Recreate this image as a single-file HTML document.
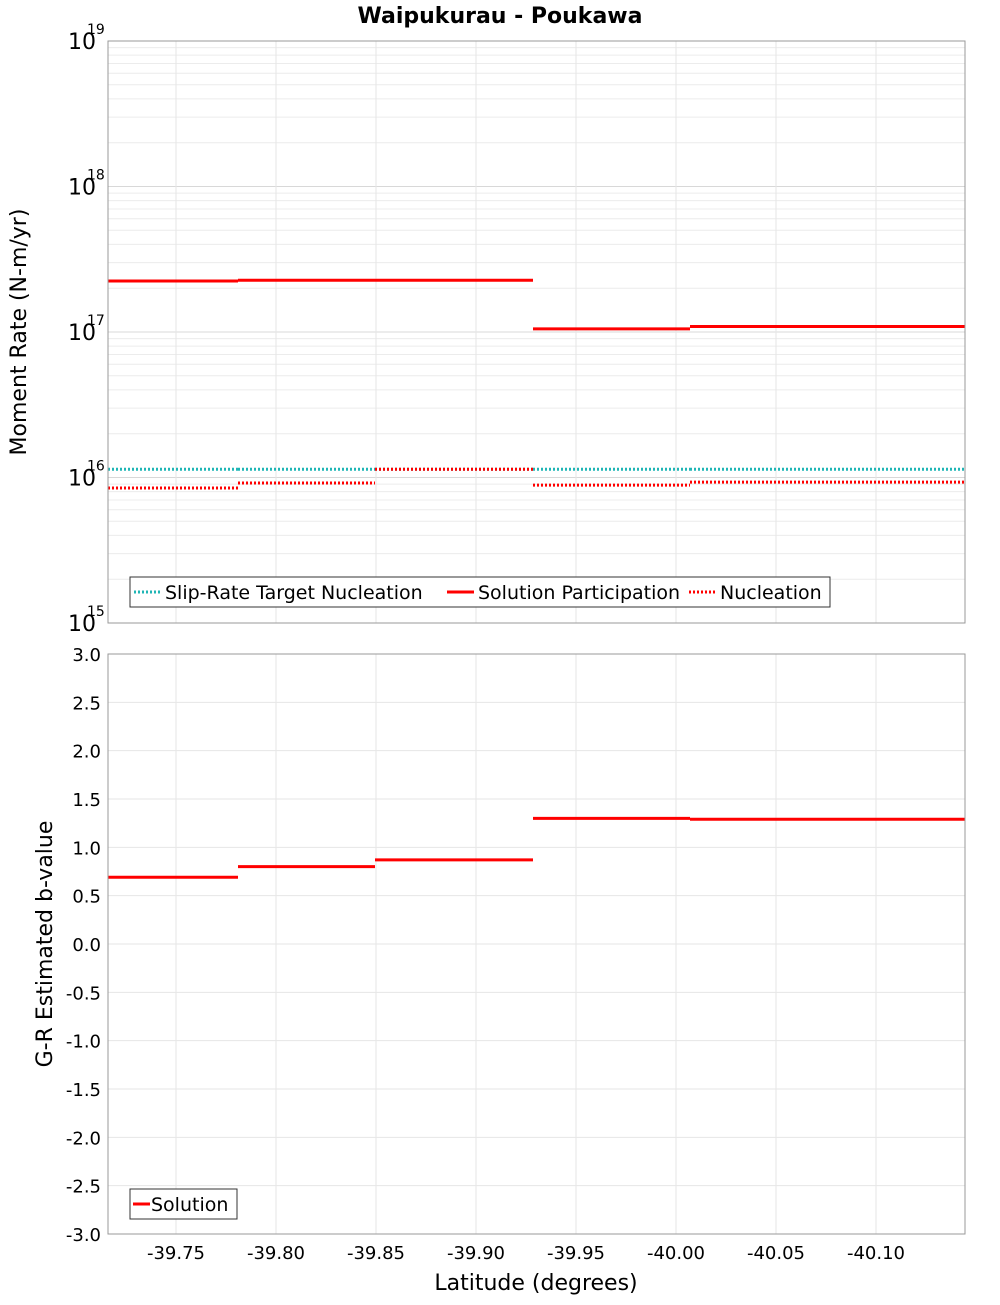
<!DOCTYPE html>
<html><head><meta charset="utf-8">
<style>
body{margin:0;background:#fff;font-family:"Liberation Sans","DejaVu Sans",sans-serif;}
svg text{font-family:"DejaVu Sans","Liberation Sans",sans-serif;}
</style></head>
<body>
<svg id="chart" width="1000" height="1300" xmlns="http://www.w3.org/2000/svg">
<text x="500" y="23" text-anchor="middle" font-size="22" font-weight="bold">Waipukurau - Poukawa</text>
<g id="topg"></g>
<g id="botg"></g>
<text transform="translate(26,332) rotate(-90)" text-anchor="middle" font-size="22">Moment Rate (N-m/yr)</text>
<text transform="translate(52,944) rotate(-90)" text-anchor="middle" font-size="22">G-R Estimated b-value</text>
<text x="536" y="1290" text-anchor="middle" font-size="22">Latitude (degrees)</text>
</svg>
<script>
const binEdges=[-39.716,-39.781,-39.8495,-39.9285,-40.007,-40.1445];
const targetNucleation=[1.14e16,1.14e16,1.14e16,1.14e16,1.14e16];
const solutionParticipation=[2.24e17,2.27e17,2.27e17,1.05e17,1.09e17];
const nucleation=[8.47e15,9.17e15,1.14e16,8.87e15,9.3e15];
const bValues=[0.69,0.80,0.87,1.30,1.29];
const xTicks=[-39.75,-39.80,-39.85,-39.90,-39.95,-40.00,-40.05,-40.10];
const bTicks=[3,2.5,2,1.5,1,0.5,0,-0.5,-1,-1.5,-2,-2.5,-3];
const logDecades=[15,16,17,18,19];

const NS="http://www.w3.org/2000/svg";
const L=108,R=965;
const xMin=-39.716,xMax=-40.1445;
const X=v=>L+(v-xMin)/(xMax-xMin)*(R-L);
const T1=41,B1=623,T2=654,B2=1234;
const YL=v=>B1-(Math.log10(v)-15)/4*(B1-T1);
const YB=v=>B2-(v+3)/6*(B2-T2);
function mk(p,tag,a){const e=document.createElementNS(NS,tag);for(const k in a)e.setAttribute(k,a[k]);p.appendChild(e);return e;}
const topG=document.getElementById('topg'),botG=document.getElementById('botg');

for(let d=15;d<19;d++)for(let m=1;m<10;m++){const y=YL(m*Math.pow(10,d));
 const g=mk(topG,'line',{x1:L,x2:R,y1:y,y2:y,stroke:m==1?'#d8d8d8':'#ececec','stroke-width':1});
 
 }
xTicks.forEach(t=>{[[T1,B1,topG],[T2,B2,botG]].forEach(([a,b,p])=>{const g=mk(p,'line',{x1:X(t),x2:X(t),y1:a,y2:b,stroke:'#e6e6e6'});
 
 });});
bTicks.forEach(t=>{const g=mk(botG,'line',{x1:L,x2:R,y1:YB(t),y2:YB(t),stroke:'#e6e6e6'});
 
 
 const tx=mk(botG,'text',{x:101,y:YB(t)+7,'text-anchor':'end','font-size':18});tx.textContent=t.toFixed(1);
 
 });
logDecades.forEach(d=>{const t=mk(topG,'text',{x:96,y:YL(Math.pow(10,d))+8,'text-anchor':'end','font-size':22});t.textContent='10';
 
 
 const s=mk(topG,'text',{x:87,y:YL(Math.pow(10,d))-7,'font-size':14});s.textContent=d;
 
 });
xTicks.forEach(t=>{const tx=mk(botG,'text',{x:X(t),y:1259,'text-anchor':'middle','font-size':18});tx.textContent=t.toFixed(2);
 
 });

function steps(p,vals,Y,color,dash,name){vals.forEach((v,i)=>{const y=Y(v);
 const a={x1:X(binEdges[i]),x2:X(binEdges[i+1]),y1:y,y2:y,stroke:color,'stroke-width':3};
 if(dash)a['stroke-dasharray']='2,2';
 const l=mk(p,'line',a);
 
 });}
steps(topG,targetNucleation,YL,'#1fb5b5',true,'target-nucleation-segment');
steps(topG,nucleation,YL,'#ff0000',true,'nucleation-segment');
steps(topG,solutionParticipation,YL,'#ff0000',false,'solution-participation-segment');
steps(botG,bValues,YB,'#ff0000',false,'b-value-segment');

[[T1,B1,topG,'top-plot-frame'],[T2,B2,botG,'bottom-plot-frame']].forEach(([a,b,p,n])=>{const r=mk(p,'rect',{x:L,y:a,width:R-L,height:b-a,fill:'none',stroke:'#999'});
 
 });

const lg=mk(topG,'g',{});


mk(lg,'rect',{x:130,y:577,width:700,height:30,fill:'#fff',stroke:'#333'});
[[134,'#1fb5b5',true,'Slip-Rate Target Nucleation'],[447,'#ff0000',false,'Solution Participation'],[689,'#ff0000',true,'Nucleation']].forEach(([x,c,d,t])=>{
 const a={x1:x,x2:x+27,y1:592,y2:592,stroke:c,'stroke-width':3};if(d)a['stroke-dasharray']='2,2';mk(lg,'line',a);
 const tx=mk(lg,'text',{x:x+31,y:599,'font-size':19});tx.textContent=t;
 
 });
const lg2=mk(botG,'g',{});


mk(lg2,'rect',{x:130,y:1189,width:107,height:30,fill:'#fff',stroke:'#333'});
mk(lg2,'line',{x1:133,x2:150,y1:1204,y2:1204,stroke:'#ff0000','stroke-width':3});
const t2=mk(lg2,'text',{x:151,y:1211,'font-size':19});t2.textContent='Solution';


</script>
</body></html>
